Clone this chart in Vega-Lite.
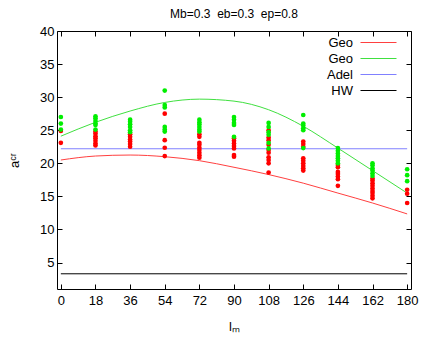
{
  "$schema": "https://vega.github.io/schema/vega-lite/v6.json",
  "width": 354,
  "height": 258,
  "autosize": "none",
  "padding": {"left": 57, "top": 31, "right": 25, "bottom": 65},
  "title": {"text": "Mb=0.3\u00a0\u00a0eb=0.3\u00a0\u00a0ep=0.8", "fontSize": 12, "fontWeight": "normal", "font": "Liberation Sans", "color": "#000", "offset": 4},
  "config": {
    "view": {"stroke": null},
    "font": "Liberation Sans",
    "axis": {"domainColor": "#000", "tickColor": "#000", "labelColor": "#000", "titleColor": "#000", "labelFontSize": 13, "titleFontSize": 13, "titleFontWeight": "normal", "grid": false, "tickSize": -5, "labelPadding": 8, "labelFont": "Liberation Sans"}
  },
  "datasets": {
    "curves": [
      {"lm": 0, "acr": 20.5, "series": "Geo1"}, {"lm": 18, "acr": 21.1, "series": "Geo1"}, {"lm": 36, "acr": 21.25, "series": "Geo1"}, {"lm": 54, "acr": 21.0, "series": "Geo1"}, {"lm": 72, "acr": 20.4, "series": "Geo1"}, {"lm": 90, "acr": 19.4, "series": "Geo1"}, {"lm": 108, "acr": 18.3, "series": "Geo1"}, {"lm": 126, "acr": 17.0, "series": "Geo1"}, {"lm": 144, "acr": 15.5, "series": "Geo1"}, {"lm": 162, "acr": 14.0, "series": "Geo1"}, {"lm": 180, "acr": 12.35, "series": "Geo1"},
      {"lm": 0, "acr": 24.1, "series": "Geo2"}, {"lm": 18, "acr": 26.2, "series": "Geo2"}, {"lm": 36, "acr": 27.9, "series": "Geo2"}, {"lm": 54, "acr": 29.2, "series": "Geo2"}, {"lm": 72, "acr": 29.7, "series": "Geo2"}, {"lm": 90, "acr": 29.4, "series": "Geo2"}, {"lm": 108, "acr": 28.1, "series": "Geo2"}, {"lm": 126, "acr": 25.6, "series": "Geo2"}, {"lm": 144, "acr": 22.3, "series": "Geo2"}, {"lm": 162, "acr": 18.9, "series": "Geo2"}, {"lm": 180, "acr": 15.5, "series": "Geo2"},
      {"lm": 0, "acr": 22.2, "series": "Adel"}, {"lm": 180, "acr": 22.2, "series": "Adel"},
      {"lm": 0, "acr": 3.3, "series": "HW"}, {"lm": 180, "acr": 3.3, "series": "HW"}
    ],
    "pts": [
      {"lm": 0, "acr": 24.9, "model": "red"}, {"lm": 0, "acr": 23.1, "model": "red"},
      {"lm": 18, "acr": 24.8, "model": "red"}, {"lm": 18, "acr": 24.5, "model": "red"}, {"lm": 18, "acr": 24.1, "model": "red"}, {"lm": 18, "acr": 23.8, "model": "red"}, {"lm": 18, "acr": 23.4, "model": "red"}, {"lm": 18, "acr": 23.0, "model": "red"}, {"lm": 18, "acr": 22.7, "model": "red"},
      {"lm": 36, "acr": 24.4, "model": "red"}, {"lm": 36, "acr": 24.0, "model": "red"}, {"lm": 36, "acr": 23.6, "model": "red"}, {"lm": 36, "acr": 23.3, "model": "red"}, {"lm": 36, "acr": 22.9, "model": "red"}, {"lm": 36, "acr": 22.5, "model": "red"},
      {"lm": 54, "acr": 27.5, "model": "red"}, {"lm": 54, "acr": 23.5, "model": "red"}, {"lm": 54, "acr": 22.35, "model": "red"}, {"lm": 54, "acr": 21.1, "model": "red"},
      {"lm": 72, "acr": 24.4, "model": "red"}, {"lm": 72, "acr": 24.0, "model": "red"}, {"lm": 72, "acr": 23.1, "model": "red"}, {"lm": 72, "acr": 22.8, "model": "red"}, {"lm": 72, "acr": 22.35, "model": "red"}, {"lm": 72, "acr": 22.0, "model": "red"}, {"lm": 72, "acr": 21.6, "model": "red"}, {"lm": 72, "acr": 21.2, "model": "red"}, {"lm": 72, "acr": 20.85, "model": "red"},
      {"lm": 90, "acr": 23.8, "model": "red"}, {"lm": 90, "acr": 23.4, "model": "red"}, {"lm": 90, "acr": 23.0, "model": "red"}, {"lm": 90, "acr": 22.6, "model": "red"}, {"lm": 90, "acr": 22.25, "model": "red"}, {"lm": 90, "acr": 21.25, "model": "red"}, {"lm": 90, "acr": 21.0, "model": "red"},
      {"lm": 108, "acr": 25.0, "model": "red"}, {"lm": 108, "acr": 23.9, "model": "red"}, {"lm": 108, "acr": 23.5, "model": "red"}, {"lm": 108, "acr": 22.8, "model": "red"}, {"lm": 108, "acr": 22.0, "model": "red"}, {"lm": 108, "acr": 21.6, "model": "red"}, {"lm": 108, "acr": 20.9, "model": "red"}, {"lm": 108, "acr": 20.5, "model": "red"}, {"lm": 108, "acr": 20.0, "model": "red"}, {"lm": 108, "acr": 18.6, "model": "red"},
      {"lm": 126, "acr": 23.3, "model": "red"}, {"lm": 126, "acr": 22.9, "model": "red"}, {"lm": 126, "acr": 22.5, "model": "red"}, {"lm": 126, "acr": 20.75, "model": "red"}, {"lm": 126, "acr": 20.4, "model": "red"}, {"lm": 126, "acr": 20.0, "model": "red"}, {"lm": 126, "acr": 19.6, "model": "red"}, {"lm": 126, "acr": 19.25, "model": "red"}, {"lm": 126, "acr": 18.9, "model": "red"},
      {"lm": 144, "acr": 19.75, "model": "red"}, {"lm": 144, "acr": 19.4, "model": "red"}, {"lm": 144, "acr": 18.7, "model": "red"}, {"lm": 144, "acr": 18.4, "model": "red"}, {"lm": 144, "acr": 18.0, "model": "red"}, {"lm": 144, "acr": 17.6, "model": "red"}, {"lm": 144, "acr": 16.6, "model": "red"},
      {"lm": 162, "acr": 17.7, "model": "red"}, {"lm": 162, "acr": 17.4, "model": "red"}, {"lm": 162, "acr": 17.0, "model": "red"}, {"lm": 162, "acr": 16.6, "model": "red"}, {"lm": 162, "acr": 16.2, "model": "red"}, {"lm": 162, "acr": 15.8, "model": "red"}, {"lm": 162, "acr": 15.5, "model": "red"}, {"lm": 162, "acr": 15.1, "model": "red"}, {"lm": 162, "acr": 14.7, "model": "red"},
      {"lm": 180, "acr": 16.0, "model": "red"}, {"lm": 180, "acr": 15.4, "model": "red"}, {"lm": 180, "acr": 14.0, "model": "red"},
      {"lm": 0, "acr": 27.0, "model": "green"}, {"lm": 0, "acr": 26.0, "model": "green"}, {"lm": 0, "acr": 25.1, "model": "green"},
      {"lm": 18, "acr": 27.1, "model": "green"}, {"lm": 18, "acr": 26.8, "model": "green"}, {"lm": 18, "acr": 26.4, "model": "green"}, {"lm": 18, "acr": 26.0, "model": "green"}, {"lm": 18, "acr": 25.8, "model": "green"}, {"lm": 18, "acr": 25.1, "model": "green"},
      {"lm": 36, "acr": 26.6, "model": "green"}, {"lm": 36, "acr": 26.3, "model": "green"}, {"lm": 36, "acr": 25.9, "model": "green"}, {"lm": 36, "acr": 25.5, "model": "green"}, {"lm": 36, "acr": 25.0, "model": "green"}, {"lm": 36, "acr": 24.7, "model": "green"},
      {"lm": 54, "acr": 31.0, "model": "green"}, {"lm": 54, "acr": 28.8, "model": "green"}, {"lm": 54, "acr": 28.45, "model": "green"}, {"lm": 54, "acr": 25.5, "model": "green"}, {"lm": 54, "acr": 25.1, "model": "green"}, {"lm": 54, "acr": 24.8, "model": "green"},
      {"lm": 72, "acr": 26.6, "model": "green"}, {"lm": 72, "acr": 26.2, "model": "green"}, {"lm": 72, "acr": 25.9, "model": "green"}, {"lm": 72, "acr": 25.5, "model": "green"}, {"lm": 72, "acr": 25.1, "model": "green"}, {"lm": 72, "acr": 24.8, "model": "green"},
      {"lm": 90, "acr": 27.0, "model": "green"}, {"lm": 90, "acr": 26.6, "model": "green"}, {"lm": 90, "acr": 26.1, "model": "green"}, {"lm": 90, "acr": 25.8, "model": "green"}, {"lm": 90, "acr": 24.0, "model": "green"},
      {"lm": 108, "acr": 26.1, "model": "green"}, {"lm": 108, "acr": 25.5, "model": "green"}, {"lm": 108, "acr": 24.7, "model": "green"}, {"lm": 108, "acr": 24.3, "model": "green"}, {"lm": 108, "acr": 23.1, "model": "green"}, {"lm": 108, "acr": 22.25, "model": "green"},
      {"lm": 126, "acr": 27.3, "model": "green"}, {"lm": 126, "acr": 26.0, "model": "green"}, {"lm": 126, "acr": 25.7, "model": "green"}, {"lm": 126, "acr": 25.3, "model": "green"}, {"lm": 126, "acr": 25.0, "model": "green"}, {"lm": 126, "acr": 22.3, "model": "green"},
      {"lm": 144, "acr": 22.3, "model": "green"}, {"lm": 144, "acr": 21.9, "model": "green"}, {"lm": 144, "acr": 21.5, "model": "green"}, {"lm": 144, "acr": 21.1, "model": "green"}, {"lm": 144, "acr": 20.75, "model": "green"}, {"lm": 144, "acr": 20.4, "model": "green"}, {"lm": 144, "acr": 20.0, "model": "green"},
      {"lm": 162, "acr": 20.0, "model": "green"}, {"lm": 162, "acr": 19.7, "model": "green"}, {"lm": 162, "acr": 19.25, "model": "green"}, {"lm": 162, "acr": 18.9, "model": "green"}, {"lm": 162, "acr": 18.5, "model": "green"}, {"lm": 162, "acr": 18.1, "model": "green"},
      {"lm": 180, "acr": 19.1, "model": "green"}, {"lm": 180, "acr": 18.2, "model": "green"}, {"lm": 180, "acr": 17.3, "model": "green"}
    ]
  },
  "layer": [
    {
      "data": {"name": "curves"},
      "mark": {"type": "line", "strokeWidth": 1, "interpolate": "monotone"},
      "encoding": {
        "x": {"field": "lm", "type": "quantitative", "scale": {"domain": [-2, 182], "nice": false, "zero": false}, "axis": {"orient": "bottom", "title": "lₘ", "values": [0, 18, 36, 54, 72, 90, 108, 126, 144, 162, 180], "labelPadding": 10, "titlePadding": 13}},
        "y": {"field": "acr", "type": "quantitative", "scale": {"domain": [1, 40], "nice": false, "zero": false}, "axis": {"orient": "left", "title": "aᶜʳ", "values": [5, 10, 15, 20, 25, 30, 35, 40], "titlePadding": 18}},
        "color": {"field": "series", "type": "nominal", "scale": {"domain": ["Geo1", "Geo2", "Adel", "HW"], "range": ["#ff4040", "#40e040", "#8080ff", "#000000"]},
          "legend": {"title": null, "orient": "none", "legendX": 315, "legendY": 5, "symbolType": "M-3,0H3", "symbolSize": 144, "symbolStrokeWidth": 1, "labelAlign": "right", "labelOffset": -32, "labelFontSize": 13, "labelFont": "Liberation Sans", "labelColor": "#000", "rowPadding": 2, "padding": 0,
            "labelExpr": "datum.label == 'Geo1' || datum.label == 'Geo2' ? 'Geo' : datum.label"}},
        "detail": {"field": "series"}
      }
    },
    {
      "data": {"name": "pts"},
      "mark": {"type": "circle", "size": 22, "opacity": 1},
      "encoding": {
        "x": {"field": "lm", "type": "quantitative", "axis": {"orient": "top", "labels": false, "title": null, "values": [0, 18, 36, 54, 72, 90, 108, 126, 144, 162, 180]}},
        "y": {"field": "acr", "type": "quantitative", "axis": {"orient": "right", "labels": false, "title": null, "values": [5, 10, 15, 20, 25, 30, 35, 40]}},
        "fill": {"field": "model", "type": "nominal", "scale": {"domain": ["red", "green"], "range": ["#ff0000", "#00ee00"]}, "legend": null}
      }
    }
  ],
  "resolve": {"axis": {"x": "independent", "y": "independent"}}
}
